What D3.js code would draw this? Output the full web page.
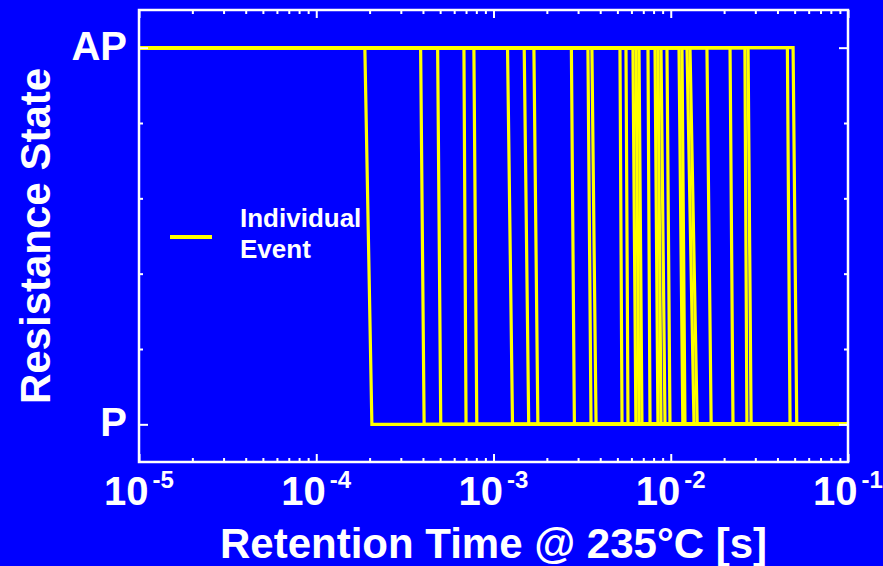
<!DOCTYPE html>
<html>
<head>
<meta charset="utf-8">
<script src="https://cdn.jsdelivr.net/npm/d3@7"></script>
<style>
  body { margin: 0; background: #0000ff; }
  text { font-family: "Liberation Sans", Arial, sans-serif; font-weight: bold; fill: #ffffff; }
</style>
</head>
<body>
<svg id="chart"></svg>
<script>
// last time each event still reads AP, and first time it reads P [s]
var ap_times = [1.88e-4, 3.88e-4, 4.84e-4, 6.81e-4, 7.75e-4, 1.20e-3, 1.49e-3, 1.69e-3,
  2.75e-3, 3.41e-3, 3.59e-3, 5.17e-3, 5.59e-3, 6.12e-3, 6.37e-3, 6.62e-3, 7.44e-3,
  8.15e-3, 8.47e-3, 8.81e-3, 9.52e-3, 1.113e-2, 1.157e-2, 1.235e-2, 1.284e-2, 1.60e-2,
  2.16e-2, 2.62e-2, 2.73e-2, 4.55e-2, 4.90e-2];
var p_times = [2.06e-4, 4.06e-4, 5.04e-4, 7.00e-4, 8.05e-4, 1.28e-3, 1.58e-3, 1.78e-3,
  2.86e-3, 3.55e-3, 3.79e-3, 5.31e-3, 5.74e-3, 6.36e-3, 6.62e-3, 6.88e-3, 7.64e-3,
  8.47e-3, 8.81e-3, 9.28e-3, 9.90e-3, 1.17e-2, 1.203e-2, 1.353e-2, 1.41e-2, 1.69e-2,
  2.245e-2, 2.69e-2, 2.84e-2, 4.71e-2, 5.14e-2];

var x_decades = [-5, -4, -3, -2, -1];
var state_values = [0, 1];
var state_labels = ['P', 'AP'];
var state_minor = [0.2, 0.4, 0.6, 0.8];
var legend_lines = ['Individual', 'Event'];
var x_title = 'Retention Time @ 235°C [s]';
var y_title = 'Resistance State';

var width = 883, height = 566;
var pl = 139, pr = 848, pt = 10, pb = 462;

var svg = d3.select('#chart').attr('width', width).attr('height', height);
svg.append('rect').attr('width', width).attr('height', height).style('fill', '#0000ff');

var x = d3.scaleLog().domain([1e-5, 1e-1]).range([pl, pr]);
var y = d3.scaleLinear().domain([-0.1, 1.1]).range([pb, pt]);

// one trace per event: AP until it flips, then P
var line = d3.line().x(d => x(d[0])).y(d => y(d[1]));
var traces = ap_times.map(function(t, i) {
  return [[1e-5, 1], [t, 1], [p_times[i], 0], [1e-1, 0]];
});
svg.selectAll('.trace')
  .data(traces)
  .enter()
  .append('path')
    .attr('class', 'trace')
    .attr('d', line)
    .style('fill', 'none')
    .style('stroke', '#ffff00')
    .style('stroke-width', 3.2)
    .style('stroke-linejoin', 'miter');

// frame + inward ticks
var major_x = x_decades.map(e => Math.pow(10, e));
var minor_x = x.ticks().filter(v => major_x.indexOf(v) < 0);

function tick_axis(axis, transform) {
  let g = svg.append('g').attr('transform', transform).call(axis);
  g.select('.domain').remove();
  g.selectAll('line').style('stroke', '#ffffff').style('stroke-width', 2);
  return g;
}
tick_axis(d3.axisBottom(x).tickValues(minor_x).tickSize(-4).tickFormat(''), 'translate(0,' + pb + ')');
tick_axis(d3.axisBottom(x).tickValues(major_x).tickSize(-8).tickFormat(''), 'translate(0,' + pb + ')');
tick_axis(d3.axisTop(x).tickValues(minor_x).tickSize(-4).tickFormat(''), 'translate(0,' + pt + ')');
tick_axis(d3.axisTop(x).tickValues(major_x).tickSize(-8).tickFormat(''), 'translate(0,' + pt + ')');
tick_axis(d3.axisLeft(y).tickValues(state_minor).tickSize(-4).tickFormat(''), 'translate(' + pl + ',0)');
tick_axis(d3.axisLeft(y).tickValues(state_values).tickSize(-9).tickFormat(''), 'translate(' + pl + ',0)');
tick_axis(d3.axisRight(y).tickValues(state_minor).tickSize(-4).tickFormat(''), 'translate(' + pr + ',0)');
tick_axis(d3.axisRight(y).tickValues(state_values).tickSize(-9).tickFormat(''), 'translate(' + pr + ',0)');

svg.append('rect')
  .attr('x', pl).attr('y', pt)
  .attr('width', pr - pl).attr('height', pb - pt)
  .style('fill', 'none')
  .style('stroke', '#ffffff')
  .style('stroke-width', 2.5);

// x tick labels 10^n
var xlab = svg.selectAll('.xlab')
  .data(x_decades)
  .enter()
  .append('text')
    .attr('class', 'xlab')
    .attr('x', d => x(Math.pow(10, d)))
    .attr('y', 505)
    .attr('text-anchor', 'middle')
    .style('font-size', '40px');
xlab.append('tspan').text('10');
xlab.append('tspan')
  .attr('dx', 4)
  .attr('dy', -17)
  .style('font-size', '24px')
  .text(d => String(d));

// y tick labels
svg.selectAll('.ylab')
  .data(state_values)
  .enter()
  .append('text')
    .attr('class', 'ylab')
    .attr('x', 127)
    .attr('y', d => y(d) + 12)
    .attr('text-anchor', 'end')
    .style('font-size', '40px')
    .text((d, i) => state_labels[i]);

// axis titles
svg.append('text')
  .attr('x', (pl + pr) / 2)
  .attr('y', 558)
  .attr('text-anchor', 'middle')
  .style('font-size', '42px')
  .text(x_title);
svg.append('text')
  .attr('transform', 'translate(50,' + ((pt + pb) / 2) + ') rotate(-90)')
  .attr('text-anchor', 'middle')
  .style('font-size', '42px')
  .text(y_title);

// legend
svg.append('line')
  .attr('x1', 170).attr('x2', 212)
  .attr('y1', 237).attr('y2', 237)
  .style('stroke', '#ffff00')
  .style('stroke-width', 4);
svg.selectAll('.legtext')
  .data(legend_lines)
  .enter()
  .append('text')
    .attr('class', 'legtext')
    .attr('x', 240)
    .attr('y', (d, i) => 227 + i * 31)
    .style('font-size', '26px')
    .text(d => d);
</script>
</body>
</html>
